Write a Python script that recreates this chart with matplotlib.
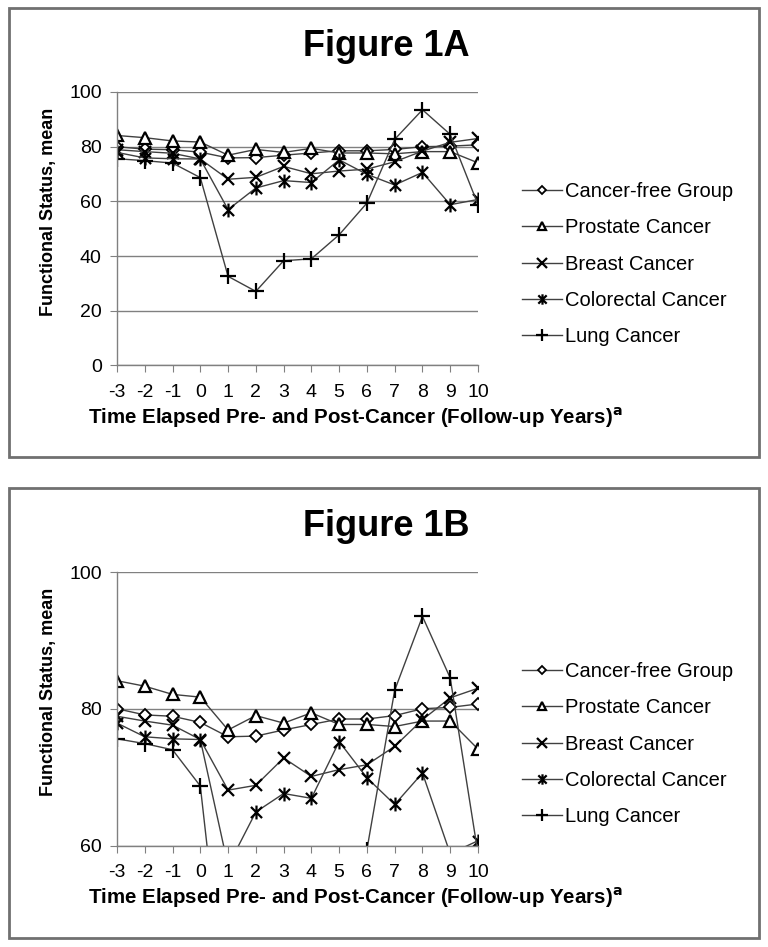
import numpy as np
import matplotlib
matplotlib.use('Agg')
import matplotlib.pyplot as plt
from matplotlib.patches import Rectangle
from matplotlib.path import Path

plt.rcParams['font.family'] = ['Liberation Sans', 'DejaVu Sans']

years = [-3, -2, -1, 0, 1, 2, 3, 4, 5, 6, 7, 8, 9, 10]

cancer_free = [80.0, 79.1, 78.9, 78.0, 75.9, 76.0, 76.9, 77.7, 78.5, 78.5, 79.0, 80.0, 80.2, 80.7]
prostate = [84.1, 83.3, 82.1, 81.7, 76.9, 79.0, 77.9, 79.4, 77.7, 77.7, 77.4, 78.2, 78.2, 74.1]
breast = [78.9, 78.2, 77.6, 75.5, 68.1, 68.8, 72.8, 70.1, 71.1, 71.8, 74.5, 78.4, 81.6, 83.0]
colorectal = [77.9, 75.9, 75.6, 75.5, 57.0, 64.9, 67.6, 66.9, 75.2, 69.9, 66.0, 70.6, 58.8, 60.7]
lung = [75.6, 74.9, 74.0, 68.7, 32.6, 27.1, 38.3, 39.0, 47.8, 59.4, 82.7, 93.5, 84.5, 58.8]

series_names = ['Cancer-free Group', 'Prostate Cancer', 'Breast Cancer',
                'Colorectal Cancer', 'Lung Cancer']
series_vals = [cancer_free, prostate, breast, colorectal, lung]

# excel style star: an x with a vertical bar through it
star = Path([(-1, -1), (1, 1), (-1, 1), (1, -1), (0, -1.25), (0, 1.25)],
            [Path.MOVETO, Path.LINETO, Path.MOVETO, Path.LINETO, Path.MOVETO, Path.LINETO])
markers = ['D', '^', 'x', star, '+']
msizes = [6, 8, 9, 10, 11]
open_mk = [True, True, False, False, False]

W, H = 768, 947
fig = plt.figure(figsize=(W / 100, H / 100), dpi=100)

grey = '#808080'
line_c = '#404040'


def px(x0, y0, x1, y1):
    # pixel box -> figure fraction
    return [x0 / W, 1 - y1 / H, (x1 - x0) / W, (y1 - y0) / H]


def panel(top, title, ylim, yticks):
    # border
    fig.patches.append(Rectangle((8.5 / W, 1 - (top + 449.5) / H), 750.5 / W, 449 / H,
                                 transform=fig.transFigure, fill=False,
                                 edgecolor='#707070', linewidth=2))
    fig.text(386 / W, 1 - (top + 48) / H, title, ha='center', va='baseline',
             fontsize=26, fontweight='bold')

    ax = fig.add_axes(px(117, top + 84, 478, top + 357.5))
    for name, vals, m, ms, op in zip(series_names, series_vals, markers, msizes, open_mk):
        ax.plot(years, vals, color=line_c, linewidth=1.0, marker=m, markersize=ms,
                markerfacecolor='white' if op else 'black',
                markeredgecolor='black', markeredgewidth=1.3 if m == 'D' else 1.6,
                label=name)
    ax.set_xlim(-3, 10)
    ax.set_ylim(*ylim)
    ax.set_xticks(years)
    ax.set_xticklabels([str(y) for y in years])
    ax.set_yticks(yticks)
    ax.yaxis.grid(True, color=grey, linewidth=1)
    ax.set_axisbelow(True)
    for s in ['top', 'right']:
        ax.spines[s].set_visible(False)
    for s in ['left', 'bottom']:
        ax.spines[s].set_color(grey)
        ax.spines[s].set_linewidth(1)
    ax.tick_params(axis='both', direction='out', length=5, color=grey,
                   labelsize=14, pad=6)
    ax.tick_params(axis='x', pad=8)
    ax.set_ylabel('Functional Status, mean', fontsize=13, fontweight='bold')
    ax.yaxis.set_label_coords(-0.165, 0.56)
    ax.set_xlabel('Time Elapsed Pre- and Post-Cancer (Follow-up Years)$^{\\mathbf{a}}$',
                  fontsize=14.8, fontweight='bold', va='center')
    ax.xaxis.set_label_coords(0.66, -0.19)
    ax.legend(loc='center left', bbox_to_anchor=(1.072, 0.37), frameon=False,
              fontsize=14.5, handlelength=2.0, labelspacing=0.86,
              handletextpad=0.15, markerscale=0.75)
    return ax


panel(8, 'Figure 1A', (0, 100), [0, 20, 40, 60, 80, 100])
panel(488, 'Figure 1B', (60, 100), [60, 80, 100])

fig.savefig('out.png', dpi=100)
